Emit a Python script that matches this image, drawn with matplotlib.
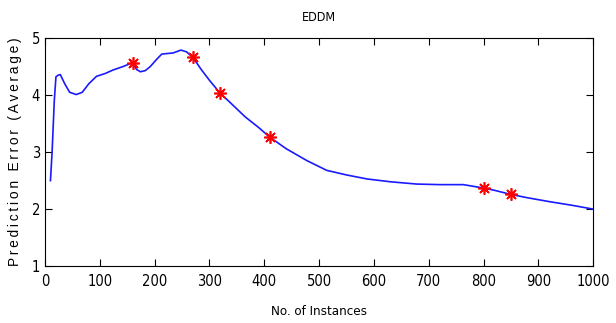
import matplotlib
matplotlib.use("Agg")
import matplotlib.pyplot as plt
from matplotlib import font_manager

entries = font_manager.fontManager.ttflist
names = set(f.name for f in entries)
if 'Liberation Sans Narrow' in names:
    narrow = dict(family='Liberation Sans Narrow')
elif any(f.name == 'DejaVu Sans' and 'ondensed' in f.fname for f in entries):
    narrow = dict(family='DejaVu Sans', stretch='condensed')
else:
    narrow = dict(family='Liberation Sans')

instances = [10, 13, 17, 20, 24, 28, 36, 45, 57, 68, 80, 94, 110, 124, 142, 160, 167, 174, 183,
             192, 203, 213, 234, 248, 258, 270, 285, 300, 319, 340, 365, 390, 409, 440, 478,
             514, 550, 587, 630, 678, 720, 763, 800, 820, 849, 880, 921, 960, 1000]
error = [2.5, 3.0, 3.9, 4.32, 4.35, 4.36, 4.2, 4.05, 4.01, 4.05, 4.2, 4.33, 4.38, 4.44, 4.5, 4.57,
         4.45, 4.41, 4.43, 4.5, 4.62, 4.72, 4.74, 4.79, 4.76, 4.66, 4.45, 4.26, 4.04, 3.85,
         3.62, 3.43, 3.27, 3.06, 2.85, 2.68, 2.6, 2.53, 2.48, 2.44, 2.43, 2.43, 2.37, 2.33,
         2.26, 2.2, 2.13, 2.07, 2.0]
drift_x = [160, 270, 320, 410, 800, 850]
drift_y = [4.57, 4.66, 4.04, 3.26, 2.37, 2.26]
xticks = [0, 100, 200, 300, 400, 500, 600, 700, 800, 900, 1000]
yticks = [1, 2, 3, 4, 5]

fig = plt.figure(figsize=(6.16, 3.23), dpi=100)
ax = fig.add_axes([0.073, 0.176, 0.890, 0.706])
ax.plot(instances, error, color='#1a1aff', lw=1.2)
ax.plot(drift_x, drift_y, linestyle='none', marker=(8, 2, 0), color='red',
        markersize=9, markeredgewidth=1.2)
ax.plot(drift_x, drift_y, linestyle='none', marker='o', color='red', markersize=3)
ax.set_xlim(0, 1000)
ax.set_ylim(1, 5)
ax.set_xticks(xticks)
ax.set_yticks(yticks)
ax.tick_params(direction='in', top=True, right=True, length=5, width=0.8,
               labelsize=10.5)
for lbl in ax.get_xticklabels() + ax.get_yticklabels():
    lbl.set_fontfamily(narrow['family'])
    if 'stretch' in narrow:
        lbl.set_fontstretch(narrow['stretch'])
ax.tick_params(axis='x', pad=6)
for s in ax.spines.values():
    s.set_linewidth(0.8)
ax.set_title('EDDM', fontsize=9, pad=12, **narrow)
ax.set_xlabel('No. of Instances', fontsize=9.5, labelpad=11, **narrow)
ylab = '\u2009'.join('Prediction Error (Average)')
ax.set_ylabel(ylab, family=['Liberation Sans', 'DejaVu Sans'], fontsize=9.9, labelpad=7)
fig.savefig('out.png', dpi=100)
